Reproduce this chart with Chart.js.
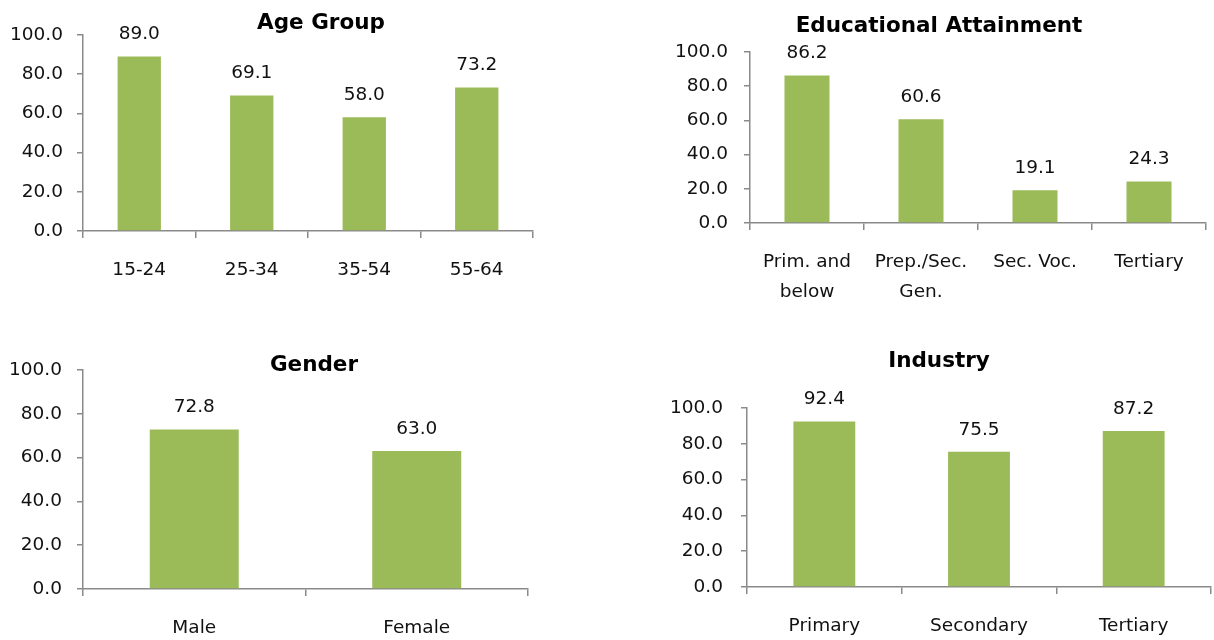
<!DOCTYPE html>
<html>
<head>
<meta charset="utf-8">
<title>Share by group</title>
<script src="https://cdn.jsdelivr.net/npm/chart.js@4.4.1/dist/chart.umd.min.js"></script>
<style>
  html, body { margin: 0; padding: 0; background: #ffffff; }
  body { width: 1214px; height: 640px; position: relative; overflow: hidden; }
  canvas { position: absolute; }
</style>
</head>
<body>
<canvas id="age" width="642" height="320" style="left:0px;top:0px"></canvas>
<canvas id="edu" width="550" height="320" style="left:664px;top:0px"></canvas>
<canvas id="gender" width="628" height="320" style="left:0px;top:320px"></canvas>
<canvas id="industry" width="550" height="320" style="left:664px;top:320px"></canvas>
<script>
// Categories and values for each panel
const ageLabels = ['15-24', '25-34', '35-54', '55-64'];
const ageValues = [89.0, 69.1, 58.0, 73.2];

const eduLabels = [['Prim. and', 'below'], ['Prep./Sec.', 'Gen.'], 'Sec. Voc.', 'Tertiary'];
const eduValues = [86.2, 60.6, 19.1, 24.3];

const genderLabels = ['Male', 'Female'];
const genderValues = [72.8, 63.0];

const industryLabels = ['Primary', 'Secondary', 'Tertiary'];
const industryValues = [92.4, 75.5, 87.2];

// Shared value axis: 0 to 100 in steps of 20
const yMin = 0;
const yMax = 100;
const yStep = 20;

const BAR_COLOR = '#9BBB59';
const AXIS_COLOR = '#8a8a8a';
const TEXT_COLOR = '#111111';
const FONT_FAMILY = '"DejaVu Sans", "Liberation Sans", sans-serif';

// Writes each bar's value just above it
const valueLabels = {
  id: 'valueLabels',
  afterDatasetsDraw(chart) {
    const ctx = chart.ctx;
    ctx.save();
    ctx.font = '18.5px ' + FONT_FAMILY;
    ctx.fillStyle = TEXT_COLOR;
    ctx.textAlign = 'center';
    ctx.textBaseline = 'middle';
    chart.data.datasets.forEach((ds, di) => {
      chart.getDatasetMeta(di).data.forEach((bar, i) => {
        ctx.fillText(Number(ds.data[i]).toFixed(1), bar.x, bar.y - 22);
      });
    });
    ctx.restore();
  }
};

function makePanel(id, cfg) {
  const ctx = document.getElementById(id).getContext('2d');
  return new Chart(ctx, {
    type: 'bar',
    data: {
      labels: cfg.labels,
      datasets: [{
        data: cfg.values,
        backgroundColor: BAR_COLOR,
        borderWidth: 0,
        categoryPercentage: 1.0,
        barPercentage: cfg.barPct
      }]
    },
    options: {
      responsive: false,
      animation: false,
      devicePixelRatio: 1,
      layout: { padding: 0 },
      plugins: {
        legend: { display: false },
        tooltip: { enabled: false },
        title: {
          display: true,
          text: cfg.title,
          color: '#000000',
          font: { family: FONT_FAMILY, size: 21.5, weight: 'bold', lineHeight: '10px' },
          padding: { top: cfg.titleTop, bottom: cfg.titleBottom }
        }
      },
      scales: {
        x: {
          offset: true,
          grid: {
            offset: true,
            drawOnChartArea: false,
            drawTicks: true,
            tickLength: 7,
            color: AXIS_COLOR,
            lineWidth: 1.5
          },
          border: { display: true, color: AXIS_COLOR, width: 1.5 },
          ticks: {
            color: TEXT_COLOR,
            font: { family: FONT_FAMILY, size: 18.5, lineHeight: '30px' },
            padding: 17,
            autoSkip: false,
            maxRotation: 0,
            minRotation: 0
          },
          afterFit(scale) { scale.height = cfg.xHeight; }
        },
        y: {
          min: yMin,
          max: yMax,
          grid: {
            drawOnChartArea: false,
            drawTicks: true,
            tickLength: 6,
            color: AXIS_COLOR,
            lineWidth: 1.5
          },
          border: { display: true, color: AXIS_COLOR, width: 1.5 },
          ticks: {
            stepSize: yStep,
            color: TEXT_COLOR,
            font: { family: FONT_FAMILY, size: 18.5 },
            padding: cfg.yPad,
            callback: (v) => Number(v).toFixed(1)
          },
          afterFit(scale) { scale.width = cfg.yWidth; }
        },
        // blank right-hand margin; keeps the title centred on the full canvas
        margin: {
          type: 'linear',
          position: 'right',
          min: yMin,
          max: yMax,
          grid: { display: false },
          border: { display: false },
          ticks: { display: false },
          afterFit(scale) { scale.width = cfg.padRight; }
        }
      }
    },
    plugins: [valueLabels]
  });
}

makePanel('age', {
  title: 'Age Group', labels: ageLabels, values: ageValues,
  barPct: 0.385, yWidth: 83, padRight: 109, titleTop: 18, titleBottom: 7, xHeight: 89, yPad: 14
});

makePanel('edu', {
  title: 'Educational Attainment', labels: eduLabels, values: eduValues,
  barPct: 0.395, yWidth: 86, padRight: 8, titleTop: 21, titleBottom: 21, xHeight: 97, yPad: 16
});

makePanel('gender', {
  title: 'Gender', labels: genderLabels, values: genderValues,
  barPct: 0.4, yWidth: 83, padRight: 100, titleTop: 40, titleBottom: 0, xHeight: 51, yPad: 15
});

makePanel('industry', {
  title: 'Industry', labels: industryLabels, values: industryValues,
  barPct: 0.4, yWidth: 83, padRight: 3, titleTop: 36, titleBottom: 42, xHeight: 53, yPad: 18
});
</script>
</body>
</html>
